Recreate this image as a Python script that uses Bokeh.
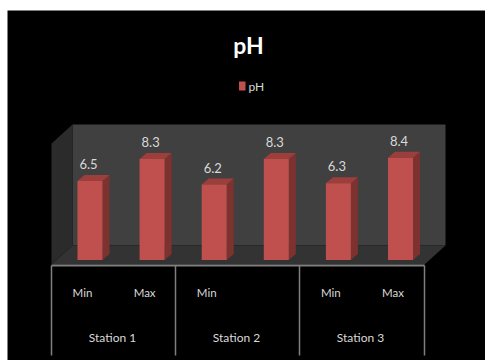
from bokeh.core.properties import value
from bokeh.embed import file_html
from bokeh.models import ColumnDataSource, Range1d
from bokeh.plotting import figure
from bokeh.resources import INLINE

# Chart content
title = "pH"
series_name = "pH"
stations = ["Station 1", "Station 2", "Station 3"]
levels = ["Min", "Max", "Min", "", "Min", "Max"]
ph_values = [6.5, 8.3, 6.2, 8.3, 6.3, 8.4]

# Page and plot geometry, in pixels
W, H = 485, 360
BAR_STEP = 62.1
FIRST_BAR = 89.5
UNIT_PX = 12.17
BASE_PX = 259.5
BAR_PX = 25.0
DEPTH_X, DEPTH_Y = 7.0, 6.0

FONT = value("Lato")


def to_x(px):
    """Pixel column to category position."""
    return (px - FIRST_BAR) / BAR_STEP


def to_y(py):
    """Pixel row to pH value."""
    return (BASE_PX - py) / UNIT_PX


p = figure(
    width=W, height=H, output_backend="svg", toolbar_location=None,
    x_range=Range1d(to_x(0), to_x(W)), y_range=Range1d(to_y(H), to_y(0)),
    min_border=0, outline_line_color=None, background_fill_color="white",
    border_fill_color="white",
)
p.axis.visible = False
p.grid.visible = False


def poly(points, color):
    p.patch([to_x(a) for a, _ in points], [to_y(b) for _, b in points],
            fill_color=color, line_color=None)


# Slide background and the 3D chart box
poly([(7, 10), (W, 10), (W, H), (7, H)], "#000000")
poly([(72, 124), (445, 124), (445, 245), (72, 245)], "#404040")
poly([(51, 143), (72, 124), (72, 245), (51, 264)], "#2b2b2b")
poly([(51, 264), (72, 245), (445, 245), (424, 264)], "#333333")

# Floor edge and the category separators below it
p.line([to_x(51), to_x(424)], [to_y(265), to_y(265)], line_color="#7f7f7f", line_width=2)
for sep in (51, 175, 299, 424):
    p.line([to_x(sep), to_x(sep)], [to_y(265), to_y(355)], line_color="#7f7f7f", line_width=1.5)

# Bars: front faces, then side and top faces offset by the box depth
xs = list(range(len(ph_values)))
half = BAR_PX / 2 / BAR_STEP
dx, dy = DEPTH_X / BAR_STEP, DEPTH_Y / UNIT_PX
bars = ColumnDataSource(dict(
    x=xs, top=ph_values,
    side_x=[[i + half, i + half + dx, i + half + dx, i + half] for i in xs],
    side_y=[[0, dy, v + dy, v] for v in ph_values],
    top_x=[[i - half, i - half + dx, i + half + dx, i + half] for i in xs],
    top_y=[[v, v + dy, v + dy, v] for v in ph_values],
    label=[f"{v:.1f}" for v in ph_values],
    label_y=[v + 17 / UNIT_PX for v in ph_values],
))
p.patches("side_x", "side_y", source=bars, fill_color="#7d322f", line_color=None)
p.patches("top_x", "top_y", source=bars, fill_color="#9c3e3b", line_color=None)
p.vbar(x="x", top="top", bottom=0, width=2 * half, source=bars, fill_color="#c0504d", line_color=None)

# Value labels above the bars
p.text(x="x", y="label_y", text="label", source=bars, x_offset=-1.5, text_color="#d9d9d9",
       text_font=FONT, text_font_size="13px", text_align="center", text_baseline="middle")

# Level labels and station labels under the floor
p.text(x=[i - 7.5 / BAR_STEP for i in xs], y=[to_y(292)] * len(xs), text=levels, text_color="#d9d9d9",
       text_font=FONT, text_font_size="11.5px", text_align="center", text_baseline="middle")
p.text(x=[to_x(112 + 124 * i) for i in range(len(stations))], y=[to_y(337)] * len(stations),
       text=stations, text_color="#d9d9d9", text_font=FONT, text_font_size="12px",
       text_align="center", text_baseline="middle")

# Title and legend
p.text(x=[to_x(248)], y=[to_y(44)], text=[title], text_color="#ffffff", text_font=FONT,
       text_font_style="bold", text_font_size="23px", text_align="center", text_baseline="middle")
poly([(238.5, 81), (245, 81), (245, 90), (238.5, 90)], "#c0504d")
p.text(x=[to_x(248)], y=[to_y(86)], text=[series_name], text_color="#d9d9d9", text_font=FONT,
       text_font_size="12px", text_align="left", text_baseline="middle")

open("out.html", "w").write(file_html(p, INLINE))
